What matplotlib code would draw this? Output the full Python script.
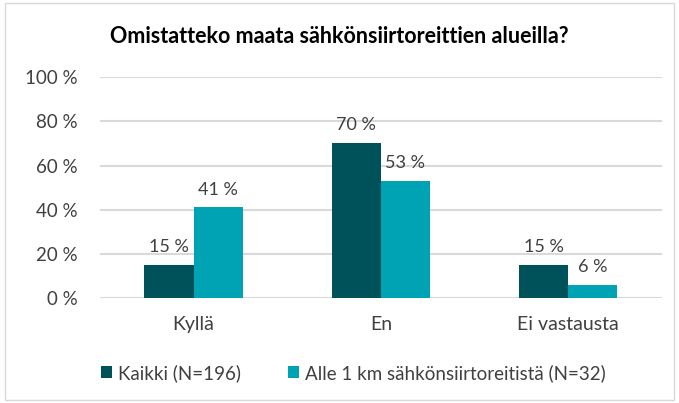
import numpy as np
import matplotlib.pyplot as plt
from matplotlib.patches import Rectangle

categories = ['Kyllä', 'En', 'Ei vastausta']
kaikki = [15, 70, 15]
alle_1km = [41, 53, 6]
series_names = ['Kaikki (N=196)', 'Alle 1 km sähkönsiirtoreitistä (N=32)']
yticks = [0, 20, 40, 60, 80, 100]

plt.rcParams['font.family'] = ['Lato', 'DejaVu Sans']
dark = '#00525A'
cyan = '#00A3B4'

fig = plt.figure(figsize=(6.79, 4.03), dpi=100)
fig.patches.append(Rectangle((0.008, 0.008), 0.984, 0.985, transform=fig.transFigure,
                             fill=False, edgecolor='#D9D9D9', linewidth=1))
ax = fig.add_axes([0.147, 0.2605, 0.828, 0.548])

x = np.arange(len(categories))
w = 0.262
b1 = ax.bar(x - w / 2, kaikki, w, color=dark, label=series_names[0], zorder=3)
b2 = ax.bar(x + w / 2, alle_1km, w, color=cyan, label=series_names[1], zorder=3)
for bars in (b1, b2):
    for r in bars:
        ax.text(r.get_x() + r.get_width() / 2, r.get_height() + 4.5, f'{r.get_height():.0f} %',
                ha='center', va='bottom', fontsize=13, color='#404040')

ax.set_xlim(-0.5, 2.5)
ax.set_ylim(0, 100)
ax.set_yticks(yticks)
ax.set_yticklabels([f'{t} %' for t in yticks], fontsize=13.5, color='#404040')
ax.set_xticks(x)
ax.set_xticklabels(categories, fontsize=14, color='#404040')
ax.tick_params(length=0)
ax.tick_params(axis='x', pad=13)
ax.tick_params(axis='y', pad=16)
ax.grid(axis='y', color='#D9D9D9', linewidth=1.5, zorder=0)
for s in ax.spines.values():
    s.set_visible(False)

fig.text(0.5, 0.91, 'Omistatteko maata sähkönsiirtoreittien alueilla?', ha='center', va='center',
         fontsize=15.5, fontweight='bold', color='black')
fig.legend(loc='center', bbox_to_anchor=(0.52, 0.075), ncol=2, frameon=False, fontsize=13.5,
           handlelength=0.6, handleheight=0.6, handletextpad=0.3, columnspacing=2.5,
           labelcolor='#404040')

fig.savefig('out.png', dpi=100)
